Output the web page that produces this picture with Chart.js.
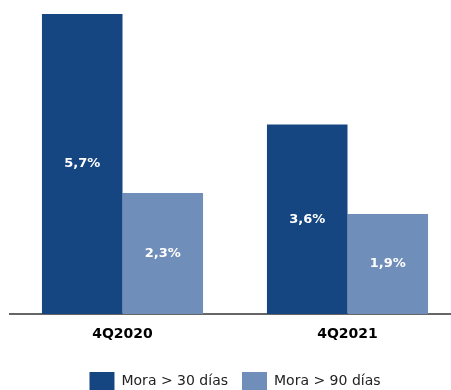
<!DOCTYPE html>
<html><head><meta charset="utf-8">
<script src="https://cdn.jsdelivr.net/npm/chart.js@4"></script>
<style>html,body{margin:0;padding:0;background:#fff;overflow:hidden;width:451px;height:390px}
#wrap{width:460px;height:390px;position:relative}</style>
</head><body><div id="wrap"><canvas id="c"></canvas></div>
<script>
const categories = ["4Q2020", "4Q2021"];
const seriesNames = ["Mora > 30 días", "Mora > 90 días"];
const mora30 = [5.7, 3.6];
const mora90 = [2.3, 1.9];
const colors = ["#154682", "#6F8EBA"];
const fmt = v => v.toFixed(1).replace('.', ',') + '%';

const labelPlugin = {
  id: 'barLabels',
  afterDatasetsDraw(chart) {
    const ctx = chart.ctx;
    ctx.save();
    ctx.fillStyle = '#ffffff';
    ctx.font = 'bold 13px "DejaVu Sans"';
    ctx.textAlign = 'center';
    ctx.textBaseline = 'middle';
    chart.data.datasets.forEach((ds, i) => {
      chart.getDatasetMeta(i).data.forEach((bar, j) => {
        const y = (bar.y + bar.base) / 2;
        ctx.fillText(fmt(ds.data[j]), bar.x, y);
      });
    });
    ctx.restore();
  }
};

new Chart(document.getElementById('c'), {
  type: 'bar',
  data: {
    labels: categories,
    datasets: [
      { label: seriesNames[0], data: mora30, backgroundColor: colors[0] },
      { label: seriesNames[1], data: mora90, backgroundColor: colors[1] }
    ]
  },
  options: {
    responsive: true, maintainAspectRatio: false, animation: false,
    layout: { padding: { top: 14, left: 10, right: 0, bottom: -10 } },
    datasets: { bar: { barPercentage: 1, categoryPercentage: 0.716 } },
    scales: {
      x: {
        grid: { display: false },
        border: { display: true, color: '#666666', width: 2 },
        ticks: { color: '#000', font: { family: 'DejaVu Sans', size: 14, weight: 'bold' }, padding: 4 },
        afterFit(scale) { scale.height = 44; }
      },
      y: { display: false, min: 0, max: 5.7 }
    },
    plugins: {
      tooltip: { enabled: false },
      legend: {
        position: 'bottom',
        labels: { boxWidth: 25, boxHeight: 18, color: '#222', font: { family: 'DejaVu Sans', size: 14 }, padding: 14 }
      }
    }
  },
  plugins: [labelPlugin]
});
</script></body></html>
